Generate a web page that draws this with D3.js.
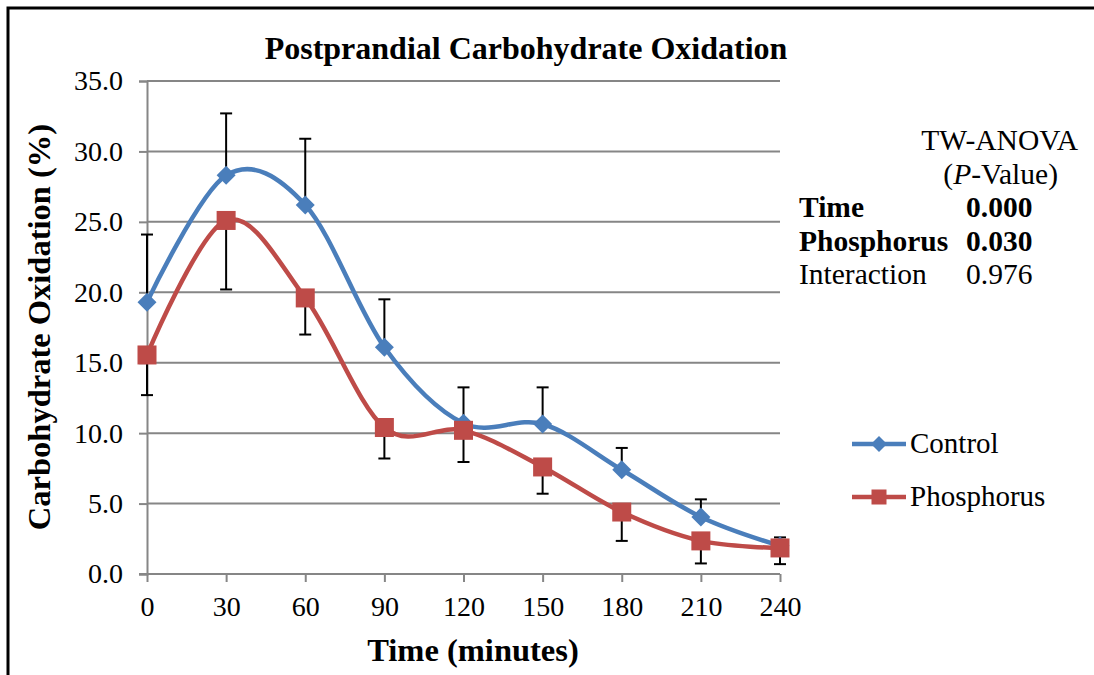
<!DOCTYPE html>
<html><head><meta charset="utf-8">
<script src="https://cdn.jsdelivr.net/npm/d3@7"></script>
<style>body{margin:0;background:#fff}svg{display:block}text{font-family:"Liberation Serif","Times New Roman",serif;fill:#000}</style>
</head><body>
<script>
const times = [0,30,60,90,120,150,180,210,240];
const controlVals = [19.3,28.3,26.2,16.1,10.7,10.65,7.4,4.05,2.0];
const controlErrUp = [24.1,32.7,30.9,19.5,13.25,13.25,8.95,5.3,2.6];
const phosVals = [15.55,25.1,19.6,10.4,10.2,7.6,4.4,2.35,1.85];
const phosErrDown = [12.7,20.2,17.0,8.2,7.95,5.7,2.35,0.75,0.7];
const yTicks = [0,5,10,15,20,25,30,35];
const seriesNames = ["Control","Phosphorus"];
const statsRows = [["Time","0.000",true],["Phosphorus","0.030",true],["Interaction","0.976",false]];

const W=1094,H=675;
const svg=d3.select("body").append("svg").attr("width",W).attr("height",H);
svg.append("rect").attr("width",W).attr("height",H).attr("fill","#fff");
// frame
svg.append("path").attr("d","M8,675 L8,8 L1094,8").attr("fill","none").attr("stroke","#000").attr("stroke-width",3);

const x=d3.scaleLinear().domain([0,240]).range([147,780]);
const y=d3.scaleLinear().domain([0,35]).range([574,81]);
const grid="#868686";

// gridlines
svg.append("g").selectAll("line").data(yTicks.filter(d=>d>0)).join("line")
 .attr("x1",x(0)).attr("x2",x(240)).attr("y1",d=>y(d)).attr("y2",d=>y(d))
 .attr("stroke",grid).attr("stroke-width",2);

// axes
const yAxis=d3.axisLeft(y).tickValues(yTicks).tickFormat(d3.format(".1f")).tickSize(8).tickPadding(16);
const gy=svg.append("g").attr("transform",`translate(${x(0)},0)`).call(yAxis);
const xAxis=d3.axisBottom(x).tickValues(times).tickSize(8).tickPadding(14);
const gx=svg.append("g").attr("transform",`translate(0,${y(0)})`).call(xAxis);
[gx,gy].forEach(g=>{
  g.select(".domain").attr("stroke",grid).attr("stroke-width",2);
  g.selectAll(".tick line").attr("stroke",grid).attr("stroke-width",2);
  g.selectAll("text").attr("font-size",28).attr("font-family","Liberation Serif");
});
gx.select(".domain").attr("d",`M${x(0)-8},0H${x(240)}`);

// error bars
const eb=svg.append("g").attr("stroke","#000").attr("stroke-width",2);
function errBars(vals,ends){
  vals.forEach((v,i)=>{
    const cx=x(times[i]);
    eb.append("line").attr("x1",cx).attr("x2",cx).attr("y1",y(v)).attr("y2",y(ends[i]));
    eb.append("line").attr("x1",cx-6).attr("x2",cx+6).attr("y1",y(ends[i])).attr("y2",y(ends[i]));
  });
}
errBars(controlVals,controlErrUp);
errBars(phosVals,phosErrDown);

const colors=["#4a7ebb","#be4b48"];
const line=d3.line().x((d,i)=>x(times[i])).y(d=>y(d)).curve(d3.curveCardinal.tension(0));
svg.append("path").attr("d",line(controlVals)).attr("fill","none").attr("stroke",colors[0]).attr("stroke-width",4.5);
svg.append("path").attr("d",line(phosVals)).attr("fill","none").attr("stroke",colors[1]).attr("stroke-width",4.5);

function diamond(g,cx,cy,r,c){g.append("path").attr("d",`M${cx},${cy-r}L${cx+r},${cy}L${cx},${cy+r}L${cx-r},${cy}Z`).attr("fill",c);}
function square(g,cx,cy,s,c){g.append("rect").attr("x",cx-s/2).attr("y",cy-s/2).attr("width",s).attr("height",s).attr("fill",c);}
const mk=svg.append("g");
controlVals.forEach((v,i)=>diamond(mk,x(times[i]),y(v),9.5,colors[0]));
phosVals.forEach((v,i)=>square(mk,x(times[i]),y(v),19,colors[1]));

// title
svg.append("text").attr("x",526).attr("y",59).attr("text-anchor","middle").attr("font-size",32).attr("font-weight","bold").text("Postprandial Carbohydrate Oxidation");
svg.append("text").attr("transform","translate(50,327) rotate(-90)").attr("text-anchor","middle").attr("font-size",32.5).attr("font-weight","bold").text("Carbohydrate Oxidation (%)");
svg.append("text").attr("x",473).attr("y",661).attr("text-anchor","middle").attr("font-size",32.5).attr("font-weight","bold").text("Time (minutes)");

// legend
const lg=svg.append("g");
[444,497].forEach((ly,i)=>{
  lg.append("line").attr("x1",852).attr("x2",906).attr("y1",ly).attr("y2",ly).attr("stroke",colors[i]).attr("stroke-width",4.5);
  if(i===0) diamond(lg,879,ly,8,colors[0]); else square(lg,879,ly,15,colors[1]);
  lg.append("text").attr("x",910).attr("y",ly+9).attr("font-size",29).text(seriesNames[i]);
});

// stats annotation
const st=svg.append("g");
st.append("text").attr("x",1078).attr("y",150).attr("text-anchor","end").attr("font-size",29.5).text("TW-ANOVA");
const pv=st.append("text").attr("x",1058).attr("y",184).attr("text-anchor","end").attr("font-size",29.5);
pv.append("tspan").text("(");pv.append("tspan").attr("font-style","italic").text("P");pv.append("tspan").text("-Value)");
statsRows.forEach((r,i)=>{
  const yy=217+i*33.5;
  st.append("text").attr("x",799).attr("y",yy).attr("font-size",29.5).attr("font-weight",r[2]?"bold":"normal").text(r[0]);
  st.append("text").attr("x",966).attr("y",yy).attr("font-size",29.5).attr("font-weight",r[2]?"bold":"normal").text(r[1]);
});
</script>
</body></html>
